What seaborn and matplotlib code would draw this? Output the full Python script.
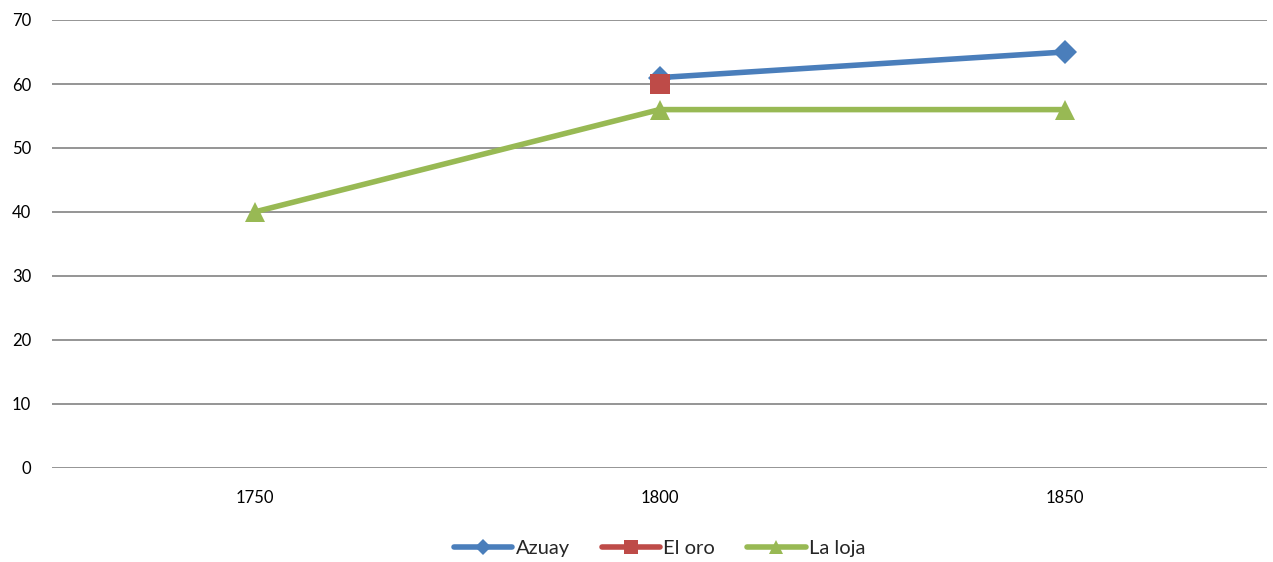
import matplotlib
matplotlib.use("Agg")
import matplotlib.pyplot as plt
import seaborn as sns
import pandas as pd
import numpy as np

years = [1750, 1800, 1850]
azuay = [np.nan, 61, 65]
el_oro = [np.nan, 60, np.nan]
la_loja = [40, 56, 56]

series = [
    ("Azuay", azuay, "#4A7EBB", "D", 12),
    ("El oro", el_oro, "#BE4B48", "s", 14),
    ("La loja", la_loja, "#98B954", "^", 14),
]

sns.set_theme(style="white")
plt.rcParams["font.family"] = ["Lato", "DejaVu Sans"]

fig = plt.figure(figsize=(12.73, 5.62), dpi=100)
ax = fig.add_axes([52 / 1273, 1 - 468 / 562, (1267 - 52) / 1273, (468 - 20) / 562])

for name, vals, color, marker, ms in series:
    df = pd.DataFrame({"year": years, "value": vals}).dropna()
    sns.lineplot(data=df, x="year", y="value", ax=ax, color=color, linewidth=4,
                 marker=marker, markersize=ms, markeredgewidth=0, label=name)

ax.set_xlim(1725, 1875)
ax.set_ylim(0, 70)
ax.set_xticks(years)
ax.set_xticklabels([str(y) for y in years])
ax.set_yticks(range(0, 71, 10))
ax.yaxis.grid(True, color="#8c8c8c", linewidth=1.3)
ax.xaxis.grid(False)
for s in ax.spines.values():
    s.set_visible(False)
ax.tick_params(axis="both", length=0, labelsize=12, colors="#000000")
ax.tick_params(axis="x", pad=16)
ax.tick_params(axis="y", pad=15)
ax.set_xlabel("")
ax.set_ylabel("")

leg = ax.legend(loc="center", bbox_to_anchor=(0.5, -0.18), ncol=3, frameon=False,
                fontsize=14.5, handlelength=2.9, handletextpad=0.15, columnspacing=1.6,
                markerscale=0.72)

fig.savefig("out.png", dpi=100)
